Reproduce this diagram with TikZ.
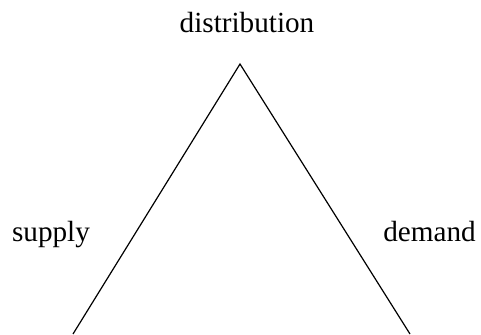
\documentclass[tikz,border=0pt]{standalone}
\usepackage{fontspec}
\setmainfont{Liberation Serif}

\begin{document}
\begin{tikzpicture}[x=0.5pt, y=-0.5pt, every node/.style={font=\fontsize{14.6}{17}\selectfont, inner sep=0pt}]
        \useasboundingbox (0,0) rectangle (481,334);
        % Triangle
        \coordinate (apex) at (240,64);
        \coordinate (baseL) at (73,334);
        \coordinate (baseR) at (410,334);
        \draw[line width=0.6pt] (baseL) -- (apex) -- (baseR);
        % Labels
        \node[anchor=base] (distribution) at (247,32) {distribution};
        \node[anchor=base] (supply) at (51,241) {supply};
        \node[anchor=base] (demand) at (429.5,241) {demand};
    \end{tikzpicture}
\end{document}
